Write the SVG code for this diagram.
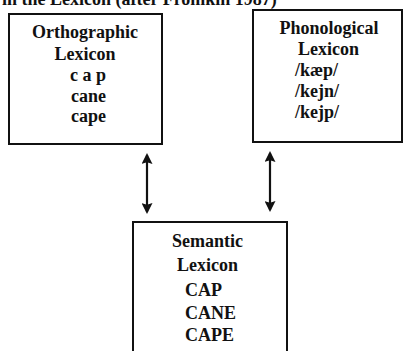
<svg xmlns="http://www.w3.org/2000/svg" width="404" height="351" viewBox="0 0 404 351">
  <style>
    text { font-family: "Liberation Serif", "Times New Roman", serif; font-weight: bold; font-size: 18px; fill: #111; }
    .box { fill: #fff; stroke: #111; stroke-width: 2; }
    .link { stroke: #111; stroke-width: 2.2; fill: none; marker-start: url(#head); marker-end: url(#head); }
  </style>
  <defs>
    <!-- long, narrow filled arrowhead used at both ends of each link -->
    <marker id="head" viewBox="0 0 10 10" refX="8.2" refY="5" markerWidth="8" markerHeight="5" markerUnits="strokeWidth" orient="auto-start-reverse">
      <path d="M0,0 L10,5 L0,10 L1.5,5 Z" fill="#111"/>
    </marker>
  </defs>
  <rect width="404" height="351" fill="#fff"/>

  <!-- caption line, cut by the top edge of the page -->
  <text x="2" y="5">in the Lexicon (after Fromkin 1987)</text>

  <g id="orthographic">
    <rect class="box" x="9" y="14" width="153" height="130"/>
    <text x="85" y="38" text-anchor="middle">Orthographic</text>
    <text x="85" y="60" text-anchor="middle">Lexicon</text>
    <text x="70" y="81">c a p</text>
    <text x="71" y="102">cane</text>
    <text x="71" y="122">cape</text>
  </g>

  <g id="phonological">
    <rect class="box" x="253" y="10" width="149" height="132"/>
    <text x="329" y="34" text-anchor="middle">Phonological</text>
    <text x="298" y="55">Lexicon</text>
    <text x="295" y="76">/kæp/</text>
    <text x="295" y="97">/kejn/</text>
    <text x="295" y="118">/kejp/</text>
  </g>

  <g id="semantic">
    <rect class="box" x="133" y="222" width="154" height="140"/>
    <text x="172" y="247">Semantic</text>
    <text x="177" y="271">Lexicon</text>
    <text x="185" y="296">CAP</text>
    <text x="185" y="319">CANE</text>
    <text x="185" y="341">CAPE</text>
  </g>

  <g id="connectors">
    <line class="link" x1="147" y1="155" x2="147" y2="212"/>
    <line class="link" x1="270" y1="153" x2="270" y2="210"/>
  </g>
</svg>
